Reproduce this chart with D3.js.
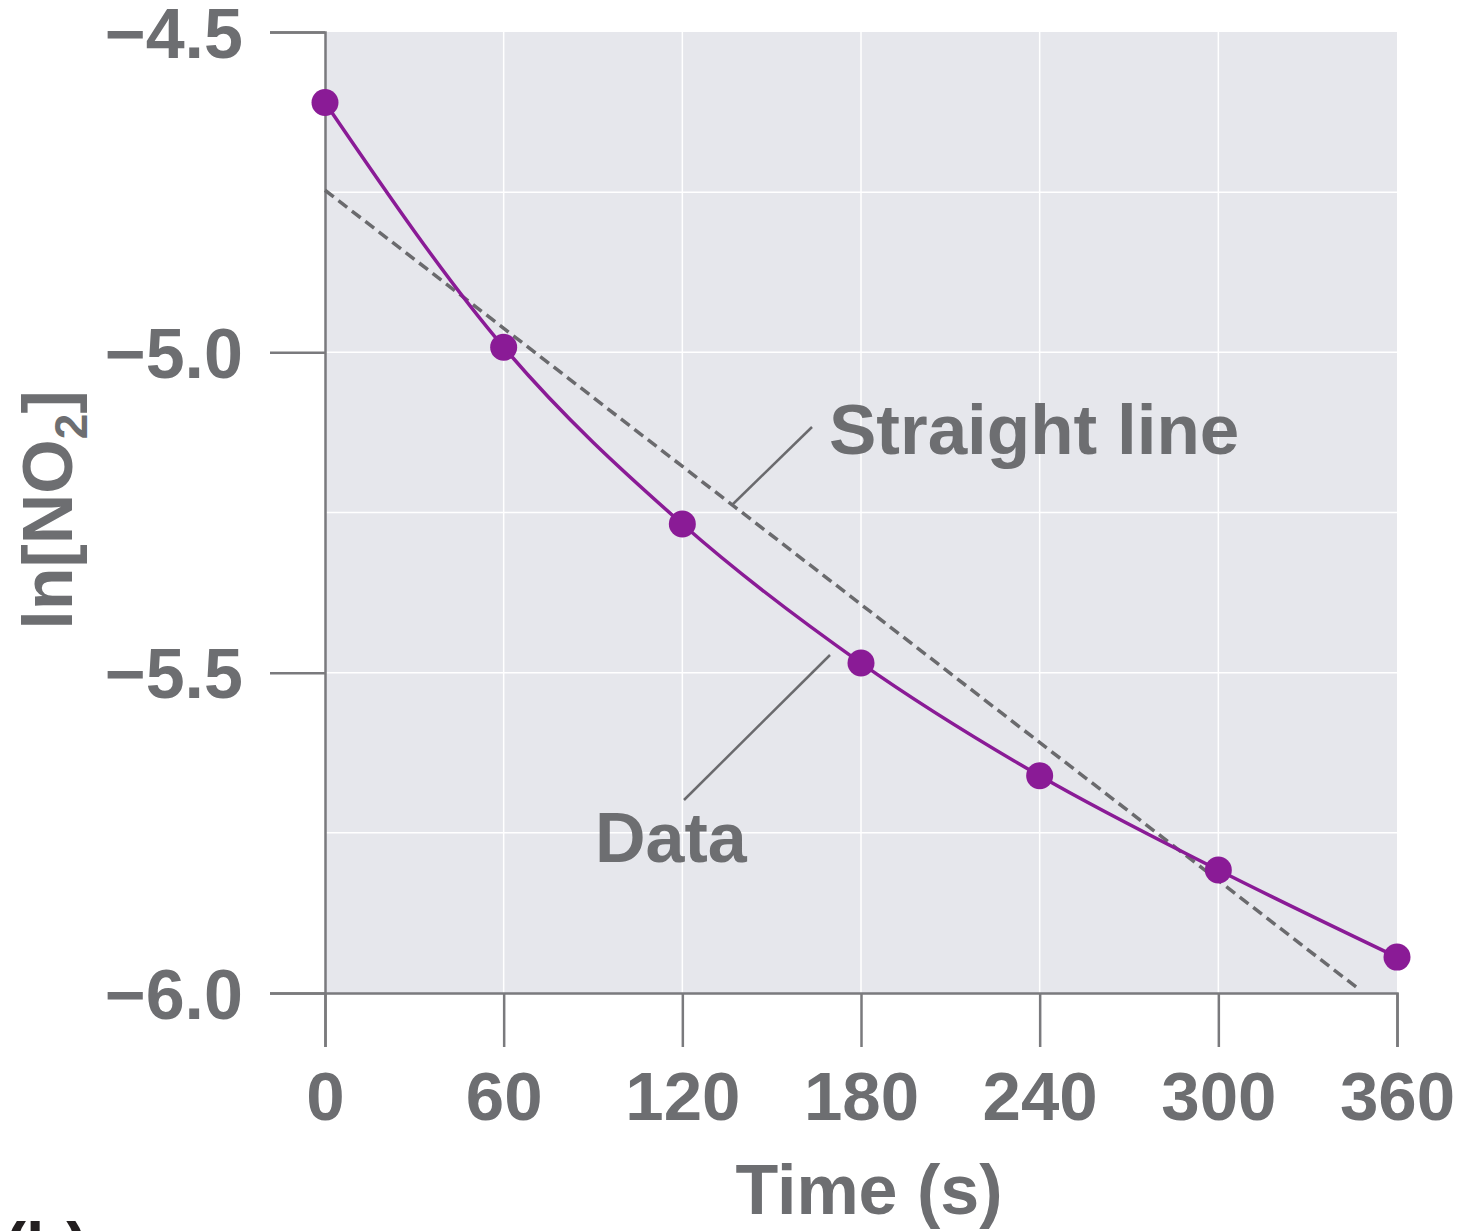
<!DOCTYPE html>
<html>
<head>
<meta charset="utf-8">
<script src="https://cdn.jsdelivr.net/npm/d3@7"></script>
<style>
  body { margin: 0; background: #fff; }
  text { font-family: "Liberation Sans", Arial, sans-serif; font-weight: bold; }
</style>
</head>
<body>
<div id="chart"></div>
<script>
// data
const times = [0, 60, 120, 180, 240, 300, 360];
const lnNO2 = [-4.61, -4.992, -5.268, -5.485, -5.661, -5.808, -5.944];
const fitTimes = [0, 347.5];
const fitValues = [-4.747, -5.995];
const xTicks = [0, 60, 120, 180, 240, 300, 360];
const yTicks = [-4.5, -5.0, -5.5, -6.0];
const yGrid = [-4.75, -5.0, -5.25, -5.5, -5.75];

const W = 1460, H = 1231;
const GREY = "#6d6e71";
const PURPLE = "#8a1b96";

const SVG = d3.select("#chart")
    .append("svg")
        .attr("width", W)
        .attr("height", H);

const x = d3.scaleLinear().domain([0, 360]).range([325, 1397]);
const y = d3.scaleLinear().domain([-4.5, -6.0]).range([32, 993]);

// plot background
SVG.append("rect")
    .attr("x", x(0))
    .attr("y", y(-4.5))
    .attr("width", x(360) - x(0))
    .attr("height", y(-6.0) - y(-4.5))
    .style("fill", "#e6e7ec");

// white grid
SVG.selectAll(".hgrid")
    .data(yGrid)
    .enter()
    .append("line")
        .attr("x1", x(0)).attr("x2", x(360))
        .attr("y1", d => y(d)).attr("y2", d => y(d))
        .style("stroke", "#fff")
        .style("stroke-width", 1.5);

SVG.selectAll(".vgrid")
    .data(xTicks.slice(1, -1))
    .enter()
    .append("line")
        .attr("x1", d => x(d)).attr("x2", d => x(d))
        .attr("y1", y(-4.5)).attr("y2", y(-6.0))
        .style("stroke", "#fff")
        .style("stroke-width", 1.5);

// axes
const fmtY = d => d3.format(".1f")(d).replace("-", "\u2212");

const yAxis = SVG.append("g")
    .attr("transform", `translate(${x(0)},0)`)
    .call(d3.axisLeft(y).tickValues(yTicks).tickSize(55).tickPadding(27).tickFormat(fmtY));

const xAxis = SVG.append("g")
    .attr("transform", `translate(0,${y(-6.0)})`)
    .call(d3.axisBottom(x).tickValues(xTicks).tickSize(54).tickPadding(24).tickFormat(d3.format("d")));

[yAxis, xAxis].forEach(g => {
    g.select(".domain").style("stroke", "#7a7a7d").style("stroke-width", 2.5);
    g.selectAll(".tick line").style("stroke", "#7a7a7d").style("stroke-width", 2.5);
    g.selectAll(".tick text")
        .style("fill", GREY)
        .style("font-size", "69px")
        .style("font-family", "'Liberation Sans', Arial, sans-serif")
        .style("font-weight", "bold");
});
yAxis.selectAll(".tick text").attr("dy", "0.36em").style("font-size", "70px");

// axis titles
SVG.append("text")
    .attr("x", 869)
    .attr("y", 1214)
    .attr("text-anchor", "middle")
    .style("font-size", "70px")
    .style("fill", GREY)
    .text("Time (s)");

const yTitle = SVG.append("text")
    .attr("transform", "translate(72,510) rotate(-90)")
    .attr("text-anchor", "middle")
    .style("font-size", "70px")
    .style("fill", GREY);
yTitle.append("tspan").text("ln[NO");
yTitle.append("tspan").attr("dy", 15).style("font-size", "46px").text("2");
yTitle.append("tspan").attr("dy", -15).text("]");

// straight line fit
SVG.append("path")
    .datum(fitTimes.map((t, i) => [t, fitValues[i]]))
    .attr("d", d3.line().x(d => x(d[0])).y(d => y(d[1])))
    .style("fill", "none")
    .style("stroke", "#6a6a6d")
    .style("stroke-width", 3.5)
    .style("stroke-dasharray", "11,6");

// data curve
const pts = times.map((t, i) => [t, lnNO2[i]]);
SVG.append("path")
    .datum(pts)
    .attr("d", d3.line().x(d => x(d[0])).y(d => y(d[1])).curve(d3.curveMonotoneX))
    .style("fill", "none")
    .style("stroke", PURPLE)
    .style("stroke-width", 3.5);

SVG.selectAll(".pt")
    .data(pts)
    .enter()
    .append("circle")
        .attr("cx", d => x(d[0]))
        .attr("cy", d => y(d[1]))
        .attr("r", 13.5)
        .style("fill", PURPLE);

// callouts
SVG.append("line")
    .attr("x1", 812).attr("y1", 427).attr("x2", 732).attr("y2", 505)
    .style("stroke", "#6a6a6d").style("stroke-width", 2.5);
SVG.append("text")
    .attr("x", 829).attr("y", 454)
    .style("font-size", "71px")
    .style("fill", GREY)
    .text("Straight line");

SVG.append("line")
    .attr("x1", 684).attr("y1", 800).attr("x2", 830).attr("y2", 655)
    .style("stroke", "#6a6a6d").style("stroke-width", 2.5);
SVG.append("text")
    .attr("x", 595).attr("y", 862)
    .style("font-size", "70px")
    .style("fill", GREY)
    .text("Data");

// panel letter, cut off at the bottom edge
SVG.append("text")
    .attr("x", 4).attr("y", 1269)
    .style("font-size", "66px")
    .style("fill", "#231f20")
    .text("(b)");
</script>
</body>
</html>
